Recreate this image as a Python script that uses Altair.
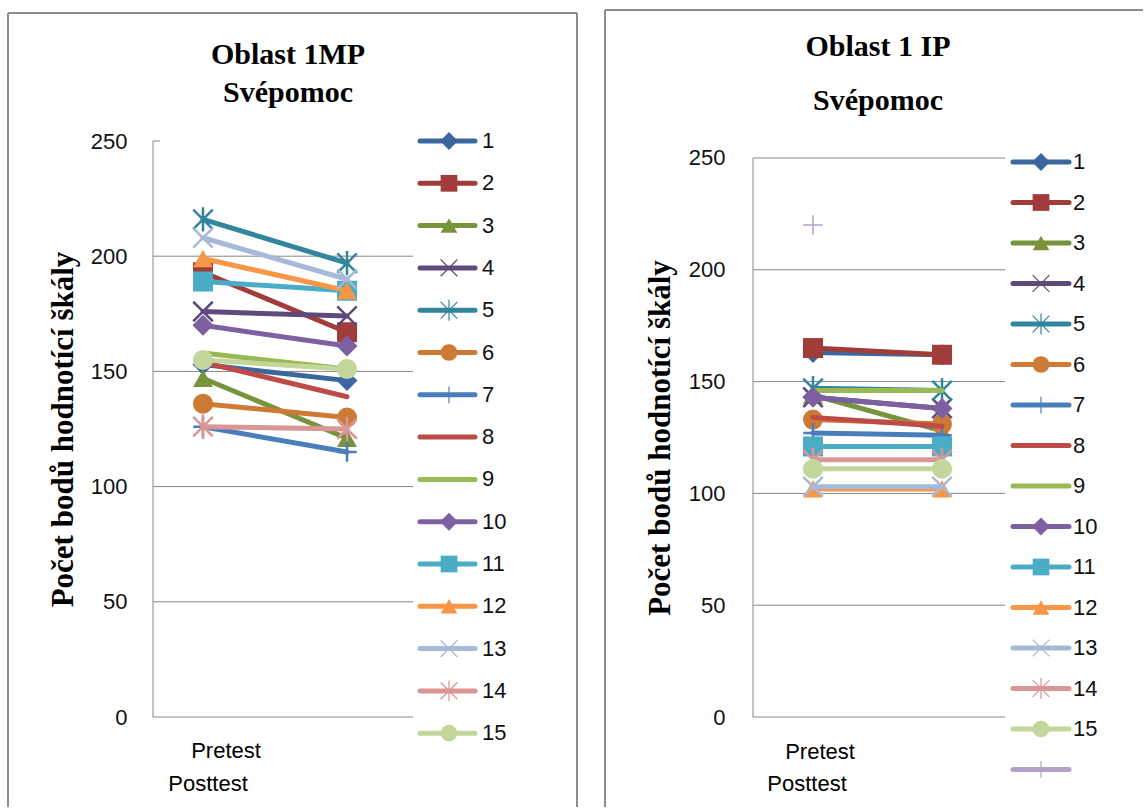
import altair as alt
import pandas as pd

# ---------------- data ----------------
phases = ["Pretest", "Posttest"]
y_ticks = [0, 50, 100, 150, 200, 250]

left_names = [str(i) for i in range(1, 16)]
left_pre = [153, 193, 147, 176, 216, 136, 126, 154, 158, 170, 189, 199, 208, 126, 155]
left_post = [146, 167, 121, 174, 197, 130, 115, 139, 151, 161, 185, 185, 190, 125, 151]

right_names = [str(i) for i in range(1, 16)] + [""]
right_pre = [163, 165, 144, 143, 147, 133, 127, 134, 146, 143, 121, 102, 103, 115, 111, 220]
right_post = [162, 162, 128, 138, 146, 131, 126, 130, 146, 138, 121, 102, 103, 115, 111, None]

# ---------------- style ----------------
colors = ["#3C679E", "#A03D3A", "#77933C", "#604A7B", "#31859C", "#CD7A35", "#4A7EBB",
          "#BE4B48", "#98B954", "#7D60A0", "#4BACC6", "#F79646", "#A7B9D8", "#D99694",
          "#C3D69B", "#B3A2C7"]
X_PATH = "M-1,-1L1,1M-1,1L1,-1"
STAR_PATH = "M-1,-1L1,1M-1,1L1,-1M0,-1.25L0,1.25"
PLUS_PATH = "M-1,0L1,0M0,-1L0,1"
markers = ["diamond", "square", "triangle-up", X_PATH, STAR_PATH, "circle", PLUS_PATH,
           None, None, "diamond", "square", "triangle-up", X_PATH, STAR_PATH, "circle", PLUS_PATH]
FILLED = {"diamond", "square", "triangle-up", "circle"}

SANS = "Liberation Sans"
SERIF = "Liberation Serif"
GRID = "#868686"
BORDER = "#8C8C8C"
H = 576


def txt(s, x, y, size, font, weight="normal", align="center"):
    return alt.Chart(pd.DataFrame({"t": [s]})).mark_text(
        font=font, fontSize=size, fontWeight=weight, align=align, baseline="middle",
        color="black").encode(text="t:N", x=alt.value(x), y=alt.value(y))


def rule(x, x2, y, y2, color=BORDER, w=2):
    return alt.Chart(pd.DataFrame({"a": [0]})).mark_rule(color=color, strokeWidth=w).encode(
        x=alt.value(x), x2=alt.value(x2), y=alt.value(y), y2=alt.value(y2))


def panel(names, pre, post, W, ymax, xdom, grid_vals, title1, title2, t_pos, lab_pos,
          leg, border, ytitle_x, label_pad, top_tick):
    yscale = alt.Scale(domain=[0, ymax], zero=False, nice=False)
    xscale = alt.Scale(domain=xdom, zero=False, nice=False)
    top_px = H - 250 / ymax * H
    layers = []

    # gridlines + y axis
    gdf = pd.DataFrame({"v": grid_vals})
    layers.append(alt.Chart(gdf).mark_rule(color=GRID, strokeWidth=1).encode(
        y=alt.Y("v:Q", scale=yscale, axis=alt.Axis(
            values=y_ticks, grid=False, ticks=False, domain=False,
            labelFont=SANS, labelFontSize=22, labelColor="#111", labelPadding=label_pad,
            title="Počet bodů hodnotící škály", titleFont=SERIF, titleFontWeight="bold",
            titleFontSize=31, titleColor="black", titleX=ytitle_x, titleY=(top_px + H) / 2,
            titleAngle=270, titleAlign="center", titleBaseline="middle")),
        x=alt.value(0), x2=alt.value(W)))
    # y axis line from 0 to 250
    layers.append(alt.Chart(pd.DataFrame({"a": [0], "b": [250]})).mark_rule(
        color=GRID, strokeWidth=1).encode(y=alt.Y("a:Q", scale=yscale), y2="b:Q",
                                           x=alt.value(0)))
    if top_tick:
        layers.append(alt.Chart(pd.DataFrame({"v": [250]})).mark_rule(
            color=GRID, strokeWidth=1).encode(y=alt.Y("v:Q", scale=yscale),
                                               x=alt.value(0), x2=alt.value(7)))

    # series
    for i, name in enumerate(names):
        rows = []
        for p, val in enumerate([pre[i], post[i]]):
            if val is not None:
                rows.append({"p": p, "v": val, "s": name})
        df = pd.DataFrame(rows)
        c = colors[i]
        enc = dict(x=alt.X("p:Q", scale=xscale, axis=None), y=alt.Y("v:Q", scale=yscale))
        if len(rows) > 1:
            layers.append(alt.Chart(df).mark_line(color=c, strokeWidth=5, strokeCap="round",
                                                  strokeJoin="round").encode(**enc))
        m = markers[i]
        if m is not None:
            if m in FILLED:
                sz = 440 if m == "diamond" else 400
                layers.append(alt.Chart(df).mark_point(shape=m, filled=True, size=sz, color=c,
                                                       opacity=1).encode(**enc))
            else:
                sw = 1.5 if i == 15 else 2.5
                layers.append(alt.Chart(df).mark_point(shape=m, filled=False, size=380, color=c,
                                                       strokeWidth=sw, opacity=1).encode(**enc))

    # legend
    lx1, lx2, lm, lt, ly0, lstep = leg
    for i, name in enumerate(names):
        y = ly0 + i * lstep
        c = colors[i]
        layers.append(alt.Chart(pd.DataFrame({"s": [name]})).mark_rule(
            color=c, strokeWidth=5, strokeCap="round").encode(
            x=alt.value(lx1), x2=alt.value(lx2), y=alt.value(y)))
        m = markers[i]
        if m is not None:
            if m in FILLED:
                layers.append(alt.Chart(pd.DataFrame({"s": [name]})).mark_point(
                    shape=m, filled=True, size=320 if m == "diamond" else 280, color=c,
                    opacity=1).encode(x=alt.value(lm), y=alt.value(y)))
            else:
                layers.append(alt.Chart(pd.DataFrame({"s": [name]})).mark_point(
                    shape=m, filled=False, size=280, color=c, strokeWidth=1.2,
                    opacity=1).encode(x=alt.value(lm), y=alt.value(y)))
        if name:
            layers.append(alt.Chart(pd.DataFrame({"s": [name]})).mark_text(
                font=SANS, fontSize=22, align="left", baseline="middle", color="#111").encode(
                text="s:N", x=alt.value(lt), y=alt.value(y)))

    # titles & category labels
    (tx, ty1, ty2) = t_pos
    layers.append(txt(title1, tx, ty1, 30, SERIF, "bold"))
    layers.append(txt(title2, tx, ty2, 30, SERIF, "bold"))
    (px, py, qx, qy) = lab_pos
    layers.append(txt(phases[0], px, py, 22, SANS))
    layers.append(txt(phases[1], qx, qy, 22, SANS))

    # border
    bx1, by1, bx2, by2, right_side = border
    layers.append(rule(bx1, bx1, by1, by2))
    layers.append(rule(bx1, bx2, by1, by1))
    if right_side:
        layers.append(rule(bx2, bx2, by1, by2))

    return alt.layer(*layers).properties(width=W, height=H)


left = panel(left_names, left_pre, left_post, 260, 250, [-0.347, 1.458],
             [0, 50, 100, 150, 200], "Oblast 1MP", "Svépomoc", (135, -86, -48),
             (73, 610, 55, 643), (267, 322, 296, 329, 0, 42.3),
             (-145, -128, 424, 666, True), -90, 26, True)

right = panel(right_names, right_pre, right_post, 252, 257.6, [-0.465, 1.488],
              [0, 50, 100, 150, 200, 250], "Oblast 1 IP", "Svépomoc", (125, -94, -40),
              (67, 611, 54, 643), (260, 316, 288, 320, 21, 40.5),
              (-148, -131, 390, 666, False), -93, 28, False)

chart = alt.hconcat(left, right, spacing=26).properties(
    padding={"left": 7, "top": 9, "right": 0, "bottom": 0},
    background="white",
).configure_view(stroke=None)

chart.save("out.html", embed_options={"renderer": "svg", "actions": False})
